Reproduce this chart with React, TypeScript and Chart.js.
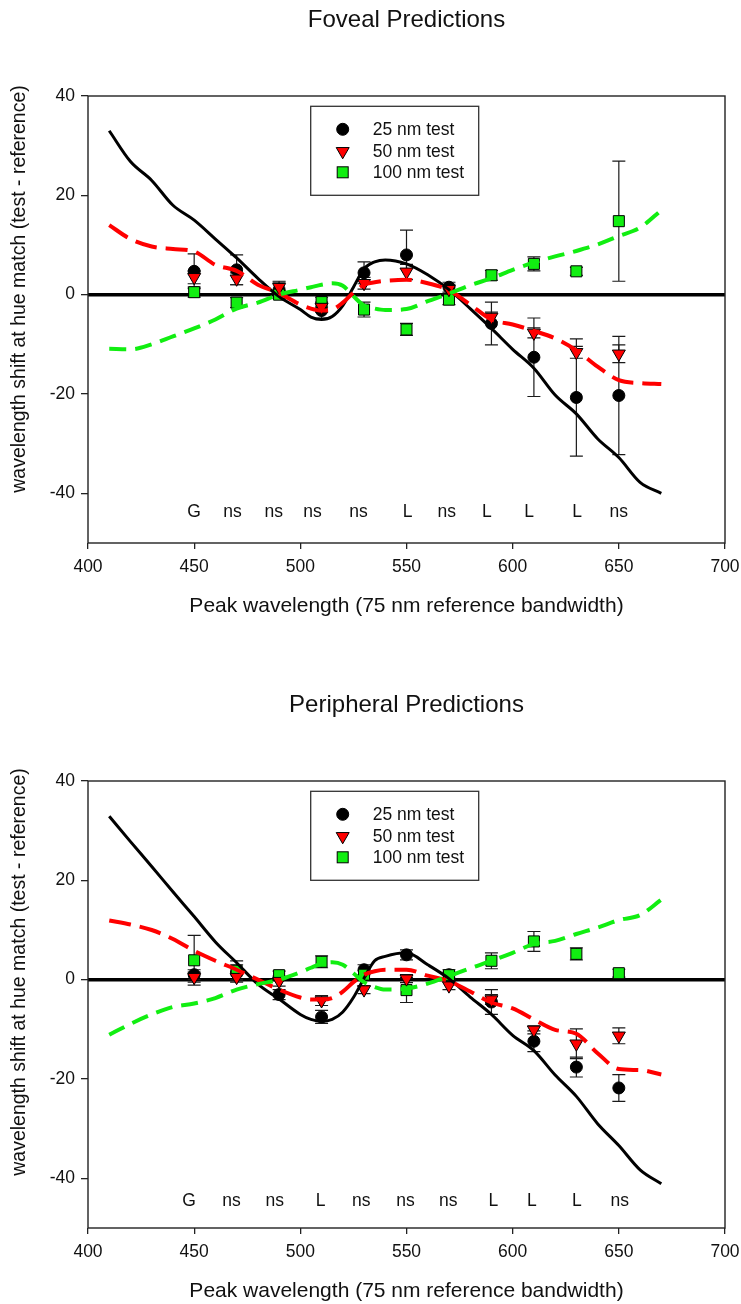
import React, { useEffect, useRef } from 'react';
import { Chart, registerables } from 'chart.js';

Chart.register(...registerables);

const FONT = '"Liberation Sans", Arial, Helvetica, sans-serif';

// ---------- shared ----------
const wavelengths = [450, 470, 490, 510, 530, 550, 570, 590, 610, 630, 650];
const curveWavelengths = [410, 420, 430, 440, 450, 460, 470, 480, 490, 500, 505, 510, 515, 520, 525, 530, 535, 540, 550, 560, 570, 580, 590, 600, 610, 620, 630, 640, 650, 660, 670];
const xTickMin = 400;
const xTickMax = 700;
const xTickStep = 50;
const yTickValues = [-40, -20, 0, 20, 40];
const yMin = -50;
const yMax = 40;
const seriesLabels = ['25 nm test', '50 nm test', '100 nm test'];
const xTitle = 'Peak wavelength (75 nm reference bandwidth)';
const yTitle = 'wavelength shift at hue match (test - reference)';

// ---------- foveal ----------
const fovealTitle = 'Foveal Predictions';
const foveal25 = [4.7, 5.0, 1.0, -3.2, 4.4, 8.0, 1.5, -5.8, -12.6, -20.7, -20.3];
const foveal25Err = [3.5, 3.0, 1.5, 1.5, 2.2, 5.0, 1.0, 4.3, 7.9, 11.8, 11.9];
const foveal50 = [3.5, 3.2, 1.5, -2.5, 2.3, 4.6, 1.1, -4.5, -7.7, -11.6, -11.9];
const foveal50Err = [1.3, 1.2, 1.2, 1.0, 1.2, 1.5, 1.0, 1.0, 1.0, 1.2, 1.8];
const foveal100 = [0.5, -1.6, 0.0, -1.5, -3.0, -7.0, -1.0, 3.9, 6.2, 4.7, 14.8];
const foveal100Err = [1.0, 1.0, 0.8, 1.0, 1.5, 1.2, 1.0, 1.0, 1.4, 0.8, 12.1];
const foveal25Curve = [33.0, 26.8, 23.0, 18.0, 15.0, 11.2, 7.4, 3.3, -0.4, -3.0, -4.5, -5.0, -4.4, -2.2, 1.5, 5.2, 6.6, 7.0, 6.2, 4.0, 1.0, -2.8, -6.8, -11.0, -14.8, -20.2, -24.0, -29.0, -32.8, -37.8, -40.0];
const foveal50Curve = [14.0, 11.2, 9.7, 9.2, 8.7, 6.0, 4.8, 2.0, 0.3, -2.0, -2.8, -3.2, -3.0, -1.6, 0.4, 2.0, 2.5, 2.8, 3.0, 2.3, 0.9, -2.0, -5.0, -6.0, -7.3, -8.8, -11.2, -14.5, -17.2, -17.8, -18.0];
const foveal100Curve = [-10.9, -11.0, -10.0, -8.4, -6.8, -5.0, -2.8, -1.6, 0.0, 1.0, 1.5, 2.0, 2.3, 1.8, -0.3, -2.2, -2.8, -3.1, -2.9, -1.3, 0.2, 1.9, 3.3, 5.0, 6.5, 7.7, 8.8, 10.1, 11.8, 13.5, 17.0];
const fovealSigLabels = ['G', 'ns', 'ns', 'ns', 'ns', 'L', 'ns', 'L', 'L', 'L', 'ns'];
const fovealSigX = [450, 468, 487.5, 505.7, 527.4, 550.5, 569, 587.8, 607.7, 630.3, 650];
const fovealSigY = -43.8;

// ---------- peripheral ----------
const peripheralTitle = 'Peripheral Predictions';
const peripheral25 = [1.0, 1.5, -3.0, -7.5, 2.0, 5.0, 1.0, -4.5, -12.4, -17.6, -21.8];
const peripheral25Err = [1.0, 1.5, 1.0, 1.3, 1.0, 1.0, 1.0, 2.5, 2.1, 2.0, 2.7];
const peripheral50 = [0.5, 0.5, -0.3, -4.2, -2.0, 0.2, -1.2, -4.0, -10.1, -12.9, -11.3];
const peripheral50Err = [1.0, 1.0, 1.0, 1.0, 0.8, 0.8, 0.8, 1.0, 0.8, 3.0, 1.6];
const peripheral100 = [3.9, 1.8, 0.9, 3.6, 1.0, -2.1, 0.9, 3.8, 7.7, 5.2, 1.3];
const peripheral100Err = [5.0, 2.0, 0.8, 1.2, 0.8, 2.5, 0.6, 1.6, 2.0, 1.2, 0.8];
const peripheral25Curve = [32.9, 27.8, 22.8, 17.7, 12.7, 7.6, 3.4, -0.9, -3.9, -7.0, -8.0, -8.4, -8.0, -6.5, -3.6, 0.3, 3.8, 4.7, 5.4, 3.0, 0.2, -3.5, -7.0, -11.2, -14.3, -19.2, -23.5, -29.0, -33.4, -38.3, -41.1];
const peripheral50Curve = [11.9, 11.1, 10.0, 8.2, 5.8, 3.8, 2.0, 0.0, -2.0, -3.6, -4.0, -4.0, -3.7, -2.4, -0.5, 1.0, 1.7, 2.0, 2.0, 0.8, -0.3, -2.4, -4.6, -5.8, -8.0, -10.1, -10.9, -14.8, -18.0, -18.2, -19.1];
const peripheral100Curve = [-11.1, -8.9, -7.0, -5.5, -4.8, -3.7, -2.0, -0.9, 0.0, 1.5, 2.4, 3.2, 3.5, 3.0, 1.3, -0.5, -1.5, -2.0, -1.8, -0.8, 0.7, 2.3, 3.8, 5.4, 7.2, 7.8, 9.2, 10.5, 12.0, 13.0, 16.1];
const peripheralSigLabels = ['G', 'ns', 'ns', 'L', 'ns', 'ns', 'ns', 'L', 'L', 'L', 'ns'];
const peripheralSigX = [447.6, 467.6, 488, 509.5, 528.7, 549.5, 569.7, 590.9, 609, 630.2, 650.4];
const peripheralSigY = -44.5;

const BLACK = '#000000';
const RED = '#ff0000';
const GREEN = '#11ee11';

type PanelDef = {
  title: string;
  s25: number[]; e25: number[];
  s50: number[]; e50: number[];
  s100: number[]; e100: number[];
  c25: number[]; c50: number[]; c100: number[];
  sigLabels: string[]; sigX: number[]; sigY: number;
  padBottom: number;
  yTitleY: number;
};

const pts = (xs: number[], ys: number[]) => xs.map((x, i) => ({ x, y: ys[i] }));

function drawLegendMarker(ctx: CanvasRenderingContext2D, kind: number, cx: number, cy: number) {
  ctx.save();
  ctx.lineWidth = 1;
  ctx.strokeStyle = '#000';
  if (kind === 0) {
    ctx.fillStyle = BLACK;
    ctx.beginPath();
    ctx.arc(cx, cy, 6, 0, Math.PI * 2);
    ctx.fill();
    ctx.stroke();
  } else if (kind === 1) {
    const r = 7.5;
    ctx.fillStyle = RED;
    ctx.beginPath();
    ctx.moveTo(cx, cy + r);
    ctx.lineTo(cx - r * 0.866, cy - r / 2);
    ctx.lineTo(cx + r * 0.866, cy - r / 2);
    ctx.closePath();
    ctx.fill();
    ctx.stroke();
  } else {
    ctx.fillStyle = GREEN;
    ctx.fillRect(cx - 5.5, cy - 5.5, 11, 11);
    ctx.strokeRect(cx - 5.5, cy - 5.5, 11, 11);
  }
  ctx.restore();
}

function makePlugin(p: PanelDef) {
  return {
    id: 'decor',
    beforeDatasetsDraw(chart: any) {
      const { ctx, chartArea, scales } = chart;
      const x = scales.x;
      const y = scales.y;
      ctx.save();
      // zero reference line
      const y0 = y.getPixelForValue(0);
      ctx.strokeStyle = '#000';
      ctx.lineWidth = 3.5;
      ctx.beginPath();
      ctx.moveTo(chartArea.left, y0);
      ctx.lineTo(chartArea.right, y0);
      ctx.stroke();
      // error bars
      ctx.strokeStyle = '#1a1a1a';
      ctx.lineWidth = 1.2;
      chart.data.datasets.forEach((ds: any) => {
        const errs: number[] | undefined = ds.errorBars;
        if (!errs) return;
        ds.data.forEach((pt: any, j: number) => {
          const px = x.getPixelForValue(pt.x);
          const t = y.getPixelForValue(pt.y + errs[j]);
          const b = y.getPixelForValue(pt.y - errs[j]);
          ctx.beginPath();
          ctx.moveTo(px, t);
          ctx.lineTo(px, b);
          ctx.moveTo(px - 6.5, t);
          ctx.lineTo(px + 6.5, t);
          ctx.moveTo(px - 6.5, b);
          ctx.lineTo(px + 6.5, b);
          ctx.stroke();
        });
      });
      ctx.restore();
    },
    afterDraw(chart: any) {
      const { ctx, chartArea, scales } = chart;
      const x = scales.x;
      const y = scales.y;
      ctx.save();
      // frame
      ctx.strokeStyle = '#222';
      ctx.lineWidth = 1.4;
      ctx.strokeRect(chartArea.left, chartArea.top, chartArea.right - chartArea.left, chartArea.bottom - chartArea.top);
      // title
      ctx.fillStyle = '#111';
      ctx.textAlign = 'center';
      ctx.textBaseline = 'middle';
      ctx.font = `24px ${FONT}`;
      ctx.fillText(p.title, (chartArea.left + chartArea.right) / 2, 20);
      // y title
      ctx.save();
      ctx.translate(20, p.yTitleY);
      ctx.rotate(-Math.PI / 2);
      ctx.font = `19.5px ${FONT}`;
      ctx.fillText(yTitle, 0, 0);
      ctx.restore();
      // significance labels
      ctx.font = `17.5px ${FONT}`;
      p.sigLabels.forEach((lab, i) => {
        ctx.fillText(lab, x.getPixelForValue(p.sigX[i]), y.getPixelForValue(p.sigY));
      });
      // legend
      const bx = chartArea.left + 222.7;
      const by = chartArea.top + 10.3;
      ctx.fillStyle = '#fff';
      ctx.fillRect(bx, by, 168, 89);
      ctx.strokeStyle = '#333';
      ctx.lineWidth = 1.3;
      ctx.strokeRect(bx, by, 168, 89);
      const rows = [23, 45, 66];
      seriesLabels.forEach((lab, i) => {
        drawLegendMarker(ctx, i, bx + 32, by + rows[i]);
        ctx.fillStyle = '#111';
        ctx.textAlign = 'left';
        ctx.textBaseline = 'middle';
        ctx.font = `17.5px ${FONT}`;
        ctx.fillText(lab, bx + 62, by + rows[i] + 1);
      });
      ctx.restore();
    },
  };
}

function makeConfig(p: PanelDef): any {
  const tickFont = { family: FONT, size: 17.5 };
  return {
    type: 'scatter',
    data: {
      datasets: [
        {
          label: 'c100', data: pts(curveWavelengths, p.c100), showLine: true, pointRadius: 0,
          borderColor: GREEN, borderWidth: 4, borderDash: [17, 9], cubicInterpolationMode: 'monotone', fill: false,
        },
        {
          label: 'c50', data: pts(curveWavelengths, p.c50), showLine: true, pointRadius: 0,
          borderColor: RED, borderWidth: 4, borderDash: [22, 9], cubicInterpolationMode: 'monotone', fill: false,
        },
        {
          label: 'c25', data: pts(curveWavelengths, p.c25), showLine: true, pointRadius: 0,
          borderColor: BLACK, borderWidth: 3, cubicInterpolationMode: 'monotone', fill: false,
        },
        {
          label: seriesLabels[1], data: pts(wavelengths, p.s50), errorBars: p.e50,
          pointStyle: 'triangle', rotation: 180, pointRadius: 7.5, backgroundColor: RED,
          borderColor: '#000', borderWidth: 1,
        },
        {
          label: seriesLabels[2], data: pts(wavelengths, p.s100), errorBars: p.e100,
          pointStyle: 'rect', pointRadius: 7.8, backgroundColor: GREEN,
          borderColor: '#000', borderWidth: 1,
        },
        {
          label: seriesLabels[0], data: pts(wavelengths, p.s25), errorBars: p.e25,
          pointStyle: 'circle', pointRadius: 6, backgroundColor: BLACK,
          borderColor: '#000', borderWidth: 1,
        },
      ],
    },
    options: {
      responsive: false,
      animation: false,
      devicePixelRatio: 1,
      layout: { padding: { top: 96, left: 0, right: 16, bottom: p.padBottom } },
      plugins: { legend: { display: false }, tooltip: { enabled: false }, title: { display: false } },
      scales: {
        x: {
          type: 'linear', min: xTickMin, max: xTickMax,
          ticks: { stepSize: xTickStep, font: tickFont, color: '#111', padding: 7.5, maxRotation: 0, autoSkip: false },
          grid: { display: true, drawOnChartArea: false, drawTicks: true, tickLength: 6, color: '#222', lineWidth: 1.3 },
          border: { display: false },
          title: { display: true, text: xTitle, font: { family: FONT, size: 21 }, color: '#111', padding: { top: 0, bottom: 0 } },
          afterFit: (s: any) => { s.height = 76; s.paddingLeft = 0; s.paddingRight = 0; },
        },
        y: {
          type: 'linear', min: yMin, max: yMax,
          afterBuildTicks: (s: any) => { s.ticks = yTickValues.map((v) => ({ value: v })); },
          ticks: { font: tickFont, color: '#111', padding: 6 },
          grid: { display: true, drawOnChartArea: false, drawTicks: true, tickLength: 7, color: '#222', lineWidth: 1.3 },
          border: { display: false },
          afterFit: (s: any) => { s.width = 88; },
        },
      },
    },
    plugins: [makePlugin(p)],
  };
}

const fovealPanel: PanelDef = {
  title: fovealTitle,
  s25: foveal25, e25: foveal25Err, s50: foveal50, e50: foveal50Err, s100: foveal100, e100: foveal100Err,
  c25: foveal25Curve, c50: foveal50Curve, c100: foveal100Curve,
  sigLabels: fovealSigLabels, sigX: fovealSigX, sigY: fovealSigY,
  padBottom: 66, yTitleY: 289,
};

const peripheralPanel: PanelDef = {
  title: peripheralTitle,
  s25: peripheral25, e25: peripheral25Err, s50: peripheral50, e50: peripheral50Err, s100: peripheral100, e100: peripheral100Err,
  c25: peripheral25Curve, c50: peripheral50Curve, c100: peripheral100Curve,
  sigLabels: peripheralSigLabels, sigX: peripheralSigX, sigY: peripheralSigY,
  padBottom: 0, yTitleY: 287,
};

function Panel({ def, top, height }: { def: PanelDef; top: number; height: number }) {
  const ref = useRef<HTMLCanvasElement>(null);
  useEffect(() => {
    if (!ref.current) return;
    const chart = new Chart(ref.current, makeConfig(def));
    return () => chart.destroy();
  }, [def]);
  return (
    <div style={{ position: 'absolute', left: 0, top, width: 741, height }}>
      <canvas ref={ref} width={741} height={height} style={{ width: 741, height, display: 'block' }} />
    </div>
  );
}

export default function App() {
  return (
    <div style={{ position: 'absolute', left: 0, top: 0, width: 741, height: 1304, background: '#fff', overflow: 'hidden' }}>
      <Panel def={fovealPanel} top={0} height={685} />
      <Panel def={peripheralPanel} top={685} height={619} />
    </div>
  );
}
